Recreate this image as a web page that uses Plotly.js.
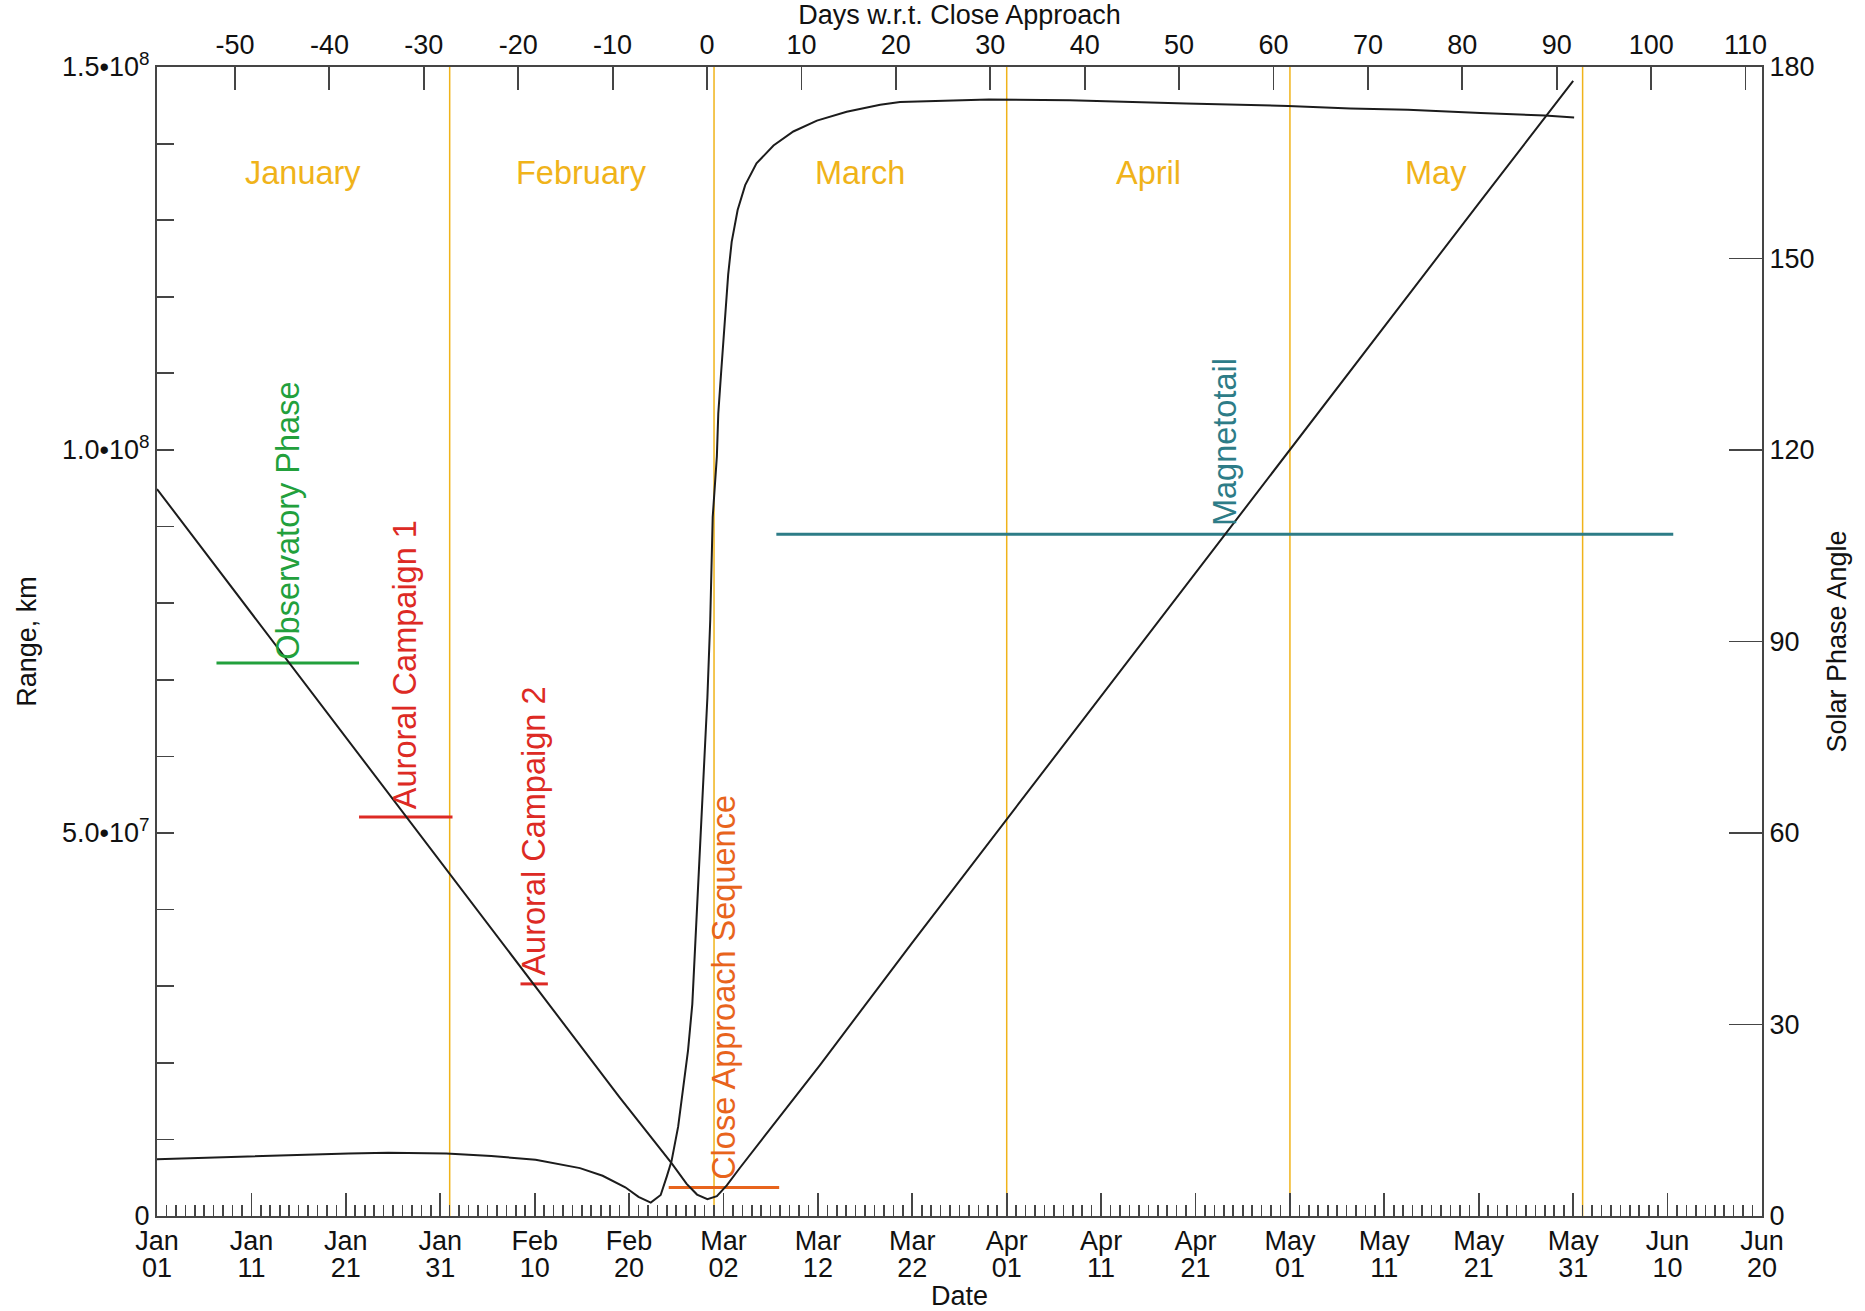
<!DOCTYPE html>
<html>
<head>
<meta charset="utf-8">
<script src="https://cdn.plot.ly/plotly-3.0.1.min.js"></script>
<style>html,body{margin:0;padding:0;background:#fff;}#chart{width:1865px;height:1311px;}</style>
</head>
<body>
<div id="chart"></div>
<script>
// ---- data (days counted from 2007-01-01 00:00 UT) ----
const closeApproachDay = 58.26;           // Feb 28 2007
const axisStartDay = 0;                   // Jan 01
const axisEndDay = 170;                   // Jun 20

// Range from Jupiter, km (left axis)
const rangeDay = [0, 10, 20, 31, 40, 46.9, 49, 54.5, 56.1, 57.2, 58.3, 59.3, 60.35, 61.75, 64.6, 70.2, 80, 90, 100, 110, 120, 130, 140, 150];
const rangeKm  = [9.49e7, 7.87e7, 6.25e7, 4.47e7, 3.01e7, 1.9e7, 1.55e7, 6.9e6, 4.2e6, 2.8e6, 2.2e6, 2.6e6, 4.0e6, 6.3e6, 1.08e7, 1.967e7, 3.57e7, 5.18e7, 6.79e7, 8.40e7, 1.0e8, 1.161e8, 1.322e8, 1.482e8];

// Solar phase angle, degrees (right axis)
const phaseDay = [0, 10.2, 20.3, 24.5, 30.65, 35.4, 40.1, 44.8, 47.2, 49.6, 51.0, 52.3, 53.35, 54.0, 54.5, 55.2, 55.8, 56.25, 56.7, 57.1, 57.5, 57.9, 58.3, 58.6, 58.7, 58.86, 59.3, 59.45, 59.74, 60.0, 60.2, 60.5, 60.87, 61.5, 62.3, 63.5, 65.3, 67.4, 69.9, 73.05, 76.6, 78.7, 88.1, 96.7, 109.0, 119.8, 126.4, 132.5, 140.2, 147.0, 150.1];
const phaseDeg = [8.9, 9.4, 9.8, 9.9, 9.8, 9.4, 8.8, 7.5, 6.3, 4.5, 3.0, 2.1, 3.3, 6.2, 8.6, 14.0, 20.8, 26.0, 33.2, 45.3, 57.3, 69.3, 81.3, 93.4, 100.5, 109.5, 119.0, 125.7, 131.9, 136.9, 141.9, 147.5, 152.6, 157.6, 161.5, 164.9, 167.7, 169.9, 171.6, 173.0, 174.1, 174.5, 174.9, 174.8, 174.3, 173.9, 173.5, 173.3, 172.8, 172.4, 172.1];

// Mission phases (horizontal bars, plotted at a range level)
const phaseNames    = ["Observatory Phase", "Auroral Campaign 1", "Auroral Campaign 2", "Close Approach Sequence", "Magnetotail"];
const phaseStartDay = [6.3, 21.4, 38.5, 54.2, 65.6];
const phaseEndDay   = [21.4, 31.3, 41.4, 65.9, 160.6];
const phaseLevelKm  = [7.22e7, 5.21e7, 3.03e7, 3.73e6, 8.9e7];

// Months
const monthNames      = ["January", "February", "March", "April", "May"];
const monthMidDay     = [15.5, 45, 74.5, 105, 135.5];
const monthStartDates = ["2007-02-01", "2007-03-01", "2007-04-01", "2007-05-01", "2007-06-01"];

// Axis tick labels
const rangeTickVals = [0, 5e7, 1e8, 1.5e8];
const rangeTickText = ["0", "5.0\u202210<sup>7</sup>", "1.0\u202210<sup>8</sup>", "1.5\u202210<sup>8</sup>"];
const caTickVals = [-50, -40, -30, -20, -10, 0, 10, 20, 30, 40, 50, 60, 70, 80, 90, 100, 110];
const caTickText = ["-50", "-40", "-30", "-20", "-10", "0", "10", "20", "30", "40", "50", "60", "70", "80", "90", "100", "110"];

// ---- styles ----
const phaseColors = ["#22a03c", "#dd2a24", "#dd2a24", "#e8641c", "#2d7c87"];
const labelLift   = [1, 6, 6, 6, 6];
const gold = "#f0b31a";
const axisCol = "#454545";
const FONT = "Liberation Sans, Arial, Helvetica, sans-serif";

const DAY_MS = 86400000;
const T0 = Date.UTC(2007, 0, 1);
function dayToDate(d) {
  return new Date(T0 + Math.round(d * DAY_MS)).toISOString().slice(0, 19).replace("T", " ");
}

const traces = [];
phaseNames.forEach((n, i) => {
  traces.push({
    type: "scatter", mode: "lines", xaxis: "x", yaxis: "y",
    x: [dayToDate(phaseStartDay[i]), dayToDate(phaseEndDay[i])],
    y: [phaseLevelKm[i], phaseLevelKm[i]],
    line: {color: phaseColors[i], width: 3},
    hoverinfo: "skip", showlegend: false
  });
});
traces.push({
  type: "scatter", mode: "lines", xaxis: "x", yaxis: "y",
  x: rangeDay.map(dayToDate), y: rangeKm,
  line: {color: "#1c1c1c", width: 2}, name: "Range", showlegend: false
});
traces.push({
  type: "scatter", mode: "lines", xaxis: "x", yaxis: "y2",
  x: phaseDay.map(dayToDate), y: phaseDeg,
  line: {color: "#1c1c1c", width: 2}, name: "Solar Phase Angle", showlegend: false
});
// carrier traces for the extra axes (draw nothing)
traces.push({
  type: "scatter", mode: "lines", xaxis: "x2", yaxis: "y",
  x: [axisStartDay - closeApproachDay], y: [0],
  hoverinfo: "skip", showlegend: false, line: {width: 0}
});
traces.push({
  type: "scatter", mode: "lines", xaxis: "x3", yaxis: "y",
  x: [dayToDate(axisStartDay)], y: [0],
  hoverinfo: "skip", showlegend: false, line: {width: 0}
});

const shapes = monthStartDates.map(d => ({
  type: "line", xref: "x", yref: "paper", x0: d, x1: d, y0: 0, y1: 1,
  line: {color: gold, width: 1.5}, layer: "below"
}));

const annotations = [];
monthNames.forEach((m, i) => {
  annotations.push({
    xref: "x", yref: "y", x: dayToDate(monthMidDay[i]), y: 1.362e8,
    text: m, showarrow: false, xanchor: "center", yanchor: "middle",
    font: {family: FONT, size: 32.5, color: gold}
  });
});
phaseNames.forEach((n, i) => {
  annotations.push({
    xref: "x", yref: "y",
    x: dayToDate((phaseStartDay[i] + phaseEndDay[i]) / 2), y: phaseLevelKm[i],
    text: n, showarrow: false, textangle: -90,
    xanchor: "center", yanchor: "bottom", yshift: labelLift[i],
    font: {family: FONT, size: 32.5, color: phaseColors[i]}
  });
});

const tickFont = {family: FONT, size: 27, color: "#111"};
const tickCommon = {
  ticks: "inside", tickcolor: axisCol, tickwidth: 1.8,
  showline: true, linecolor: axisCol, linewidth: 2,
  showgrid: false, zeroline: false, mirror: false,
  tickfont: tickFont
};

const layout = {
  width: 1865, height: 1311,
  margin: {l: 157, r: 103, t: 67, b: 95, pad: 0},
  paper_bgcolor: "#ffffff", plot_bgcolor: "#ffffff",
  showlegend: false,
  font: {family: FONT, size: 27, color: "#111"},
  xaxis: Object.assign({}, tickCommon, {
    type: "date",
    range: [dayToDate(axisStartDay), dayToDate(axisEndDay)],
    tick0: dayToDate(axisStartDay), dtick: 10 * DAY_MS,
    tickformat: "%b", ticklen: 23,
    minor: {dtick: DAY_MS, ticks: "inside", ticklen: 11, tickwidth: 1.6, tickcolor: axisCol, showgrid: false}
  }),
  // day-of-month line of the date labels
  xaxis3: {
    type: "date", overlaying: "x", side: "bottom", anchor: "y",
    range: [dayToDate(axisStartDay), dayToDate(axisEndDay)],
    tick0: dayToDate(axisStartDay), dtick: 10 * DAY_MS,
    tickformat: "%d", ticks: "", showline: false, showgrid: false, zeroline: false,
    ticklabelstandoff: 33, tickfont: tickFont,
    title: {text: "Date", font: {family: FONT, size: 27, color: "#111"}, standoff: 4}
  },
  xaxis2: Object.assign({}, tickCommon, {
    overlaying: "x", side: "top", anchor: "y",
    range: [axisStartDay - closeApproachDay, axisEndDay - closeApproachDay],
    tickmode: "array", tickvals: caTickVals, ticktext: caTickText, ticklen: 23,
    title: {text: "Days w.r.t. Close Approach", font: {family: FONT, size: 27, color: "#111"}, standoff: 0}
  }),
  yaxis: Object.assign({}, tickCommon, {
    range: [0, 1.5e8], tickmode: "array", tickvals: rangeTickVals, ticktext: rangeTickText,
    ticklen: 17,
    minor: {tick0: 0, dtick: 1e7, ticks: "inside", ticklen: 17, tickwidth: 1.8, tickcolor: axisCol, showgrid: false},
    title: {text: "Range, km", font: {family: FONT, size: 27, color: "#111"}, standoff: 18}
  }),
  yaxis2: Object.assign({}, tickCommon, {
    overlaying: "y", side: "right", anchor: "x",
    range: [0, 180], tick0: 0, dtick: 30, ticklen: 33,
    title: {text: "Solar Phase Angle", font: {family: FONT, size: 27, color: "#111"}, standoff: 14}
  }),
  shapes: shapes,
  annotations: annotations
};

Plotly.newPlot("chart", traces, layout, {displayModeBar: false, staticPlot: true});
</script>
</body>
</html>
